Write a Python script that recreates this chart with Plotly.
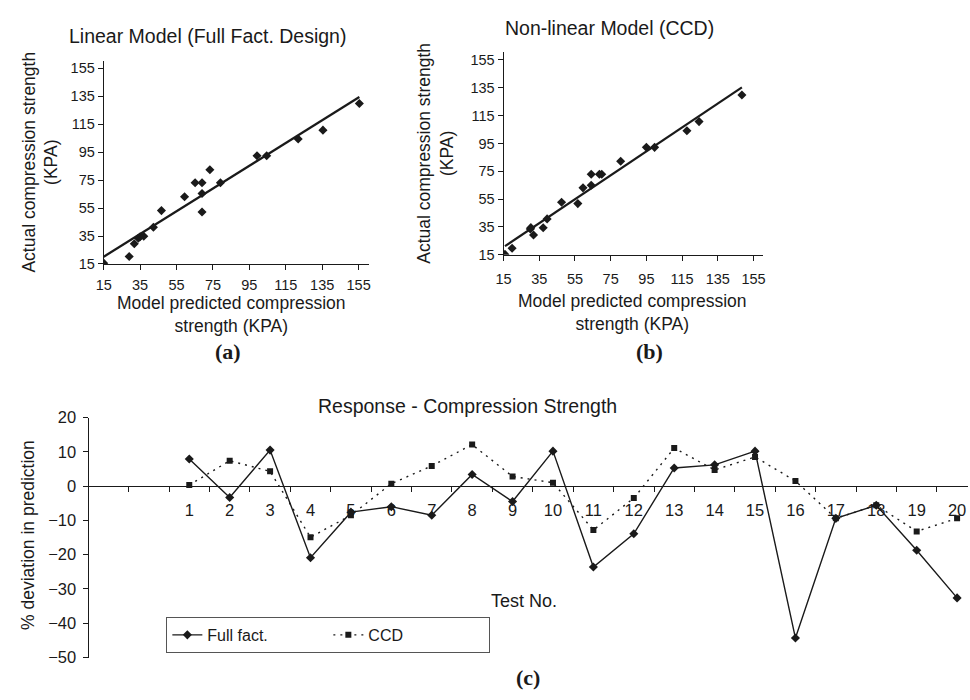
import numpy as np
import plotly.graph_objects as go

# ---- Panel (a): linear model, full factorial design ----
predicted_a = [15, 29, 31.8, 34, 35, 37, 42.3, 46.7, 59.4, 65.2, 69, 69, 69, 73.3,
               79.1, 99.2, 104.5, 121.8, 135.4, 155.4]
actual_a = [15.6, 20.3, 29.5, 33.4, 34.5, 34.8, 41.3, 53.2, 63.1, 73.1, 73.1, 65.5,
            52.2, 82.5, 73.1, 92.5, 92.5, 104.5, 110.8, 129.9]

# ---- Panel (b): non-linear model, CCD ----
predicted_b = [15.8, 19.8, 30, 30.3, 31.8, 37.2, 39.4, 47.5, 56.6, 59.5, 64.1, 64.1,
               68.7, 70, 80.6, 95, 99.6, 117.7, 124.5, 148.5]
actual_b = [15.3, 19.7, 33.6, 34.5, 29.2, 34.4, 40.8, 52.8, 51.8, 63.1, 72.9, 65,
            72.9, 72.9, 82.2, 92.2, 92.2, 104.1, 110.7, 129.8]

scatter_ticks = [15, 35, 55, 75, 95, 115, 135, 155]

# ---- Panel (c): % deviation in prediction per test ----
test_no = list(range(1, 21))
full_fact = [7.9, -3.3, 10.5, -20.9, -7.6, -6.0, -8.5, 3.4, -4.5, 10.2, -23.6, -13.9,
             5.3, 6.2, 10.2, -44.3, -9.4, -5.6, -18.7, -32.6]
ccd = [0.3, 7.4, 4.3, -14.9, -8.5, 0.7, 5.9, 12.1, 2.8, 1.0, -12.8, -3.5, 11.1, 4.7,
       8.5, 1.5, -9.4, -5.6, -13.2, -9.4]
dev_ticks = [20, 10, 0, -10, -20, -30, -40, -50]

W, H = 970, 700
FONT = "Liberation Sans, Arial, sans-serif"
SERIF = "Liberation Serif, Times New Roman, serif"
INK = "#1a1a1a"


def px(x):
    return x / W


def py(y):
    return 1 - y / H


def trend(xs, ys):
    k, b = np.polyfit(xs, ys, 1)
    xx = np.array([min(xs), max(xs)])
    return xx, k * xx + b


fig = go.Figure()

# scatter panels with linear trendlines
for xs, ys, xa, ya in [(predicted_a, actual_a, "x", "y"),
                       (predicted_b, actual_b, "x2", "y2")]:
    fig.add_trace(go.Scatter(x=xs, y=ys, mode="markers", xaxis=xa, yaxis=ya,
                             marker=dict(symbol="diamond", size=7, color=INK),
                             showlegend=False))
    tx, ty = trend(xs, ys)
    fig.add_trace(go.Scatter(x=tx, y=ty, mode="lines", xaxis=xa, yaxis=ya,
                             line=dict(color=INK, width=2.2), showlegend=False))

# deviation panel
fig.add_trace(go.Scatter(x=test_no, y=ccd, mode="lines+markers", name="CCD",
                         xaxis="x3", yaxis="y3",
                         line=dict(color=INK, width=1.4, dash="2px,5px"),
                         marker=dict(symbol="square", size=6, color=INK)))
fig.add_trace(go.Scatter(x=test_no, y=full_fact, mode="lines+markers", name="Full fact.",
                         xaxis="x3", yaxis="y3",
                         line=dict(color=INK, width=1.4),
                         marker=dict(symbol="diamond", size=7, color=INK)))

axis_common = dict(showline=True, linecolor=INK, linewidth=1, showgrid=False,
                   zeroline=False, ticks="outside", ticklen=5, tickcolor=INK,
                   tickwidth=1, tickfont=dict(family=FONT, size=14.5, color=INK))

layout = dict(
    width=W, height=H,
    margin=dict(l=0, r=0, t=0, b=0),
    paper_bgcolor="white", plot_bgcolor="white",
    font=dict(family=FONT, color=INK),
    xaxis=dict(domain=[px(96.7), px(364.4)], range=[15, 160.5], anchor="y",
               tickvals=scatter_ticks, ticklabelstandoff=3, **axis_common),
    yaxis=dict(domain=[py(261.7), py(53.1)], range=[15, 160.5], anchor="x",
               tickvals=scatter_ticks, **axis_common),
    xaxis2=dict(domain=[px(500.7), px(763.2)], range=[15, 160.5], anchor="y2",
                tickvals=scatter_ticks, ticklabelstandoff=6, **axis_common),
    yaxis2=dict(domain=[py(252.3), py(44.4)], range=[15, 160.5], anchor="x2",
                tickvals=scatter_ticks, **axis_common),
    yaxis3=dict(domain=[py(665.7), py(419.3)], range=[-50, 20], anchor="x3",
                tickvals=dev_ticks, showline=True, linecolor=INK, linewidth=1,
                showgrid=False, zeroline=False, ticks="outside", ticklen=5,
                tickcolor=INK, ticklabelstandoff=4,
                tickfont=dict(family=FONT, size=16.5, color=INK)),
    legend=dict(orientation="h", x=px(160), y=py(624), xanchor="left", yanchor="top",
                bordercolor="#555", borderwidth=1, bgcolor="white",
                font=dict(family=FONT, size=16, color=INK),
                traceorder="reversed", entrywidth=116, entrywidthmode="pixels"),
)

# category-style x axis for the deviation panel, drawn through y = 0
y3_dom = layout["yaxis3"]["domain"]
zero_pos = y3_dom[0] + (0 - (-50)) / (20 - (-50)) * (y3_dom[1] - y3_dom[0])
layout["xaxis3"] = dict(domain=[px(82.3), 1.0], range=[-1.47, 20.27], anchor="free",
                        position=zero_pos, showline=True, linecolor=INK, linewidth=1,
                        showgrid=False, zeroline=False,
                        tickvals=test_no, ticktext=[str(t) for t in test_no],
                        ticks="", ticklabelstandoff=9,
                        tickfont=dict(family=FONT, size=16.5, color=INK),
                        minor=dict(tickvals=[t - 0.5 for t in range(-1, 22)],
                                   ticks="outside", ticklen=5, tickcolor=INK))

fig.update_layout(**layout)

text_items = [
    ("Linear Model (Full Fact. Design)", 202, 28, 19.5, 0),
    ("Non-linear Model (CCD)", 608, 20, 19.5, 0),
    ("Actual compression strength<br>(KPA)", 33, 157, 17.5, -90),
    ("Actual compression strength<br>(KPA)", 432, 148, 17.5, -90),
    ("Model predicted compression<br>strength (KPA)", 226, 314, 17.5, 0),
    ("Model predicted compression<br>strength (KPA)", 631, 312, 17.5, 0),
    ("Response - Compression Strength", 464, 407, 19.5, 0),
    ("% deviation in prediction", 20, 540, 17.5, -90),
    ("Test No.", 521, 608, 18, 0),
]
for txt, x, y, size, ang in text_items:
    fig.add_annotation(text=txt, x=px(x), y=py(y), xref="paper", yref="paper",
                       xanchor="center", yanchor="middle", showarrow=False,
                       textangle=ang, font=dict(family=FONT, size=size, color=INK))

for lbl, x, y in [("(a)", 222, 352), ("(b)", 648, 352), ("(c)", 525, 686)]:
    fig.add_annotation(text="<b>%s</b>" % lbl, x=px(x), y=py(y), xref="paper",
                       yref="paper", xanchor="center", yanchor="middle",
                       showarrow=False, font=dict(family=SERIF, size=22, color=INK))

fig.write_html("out.html")
